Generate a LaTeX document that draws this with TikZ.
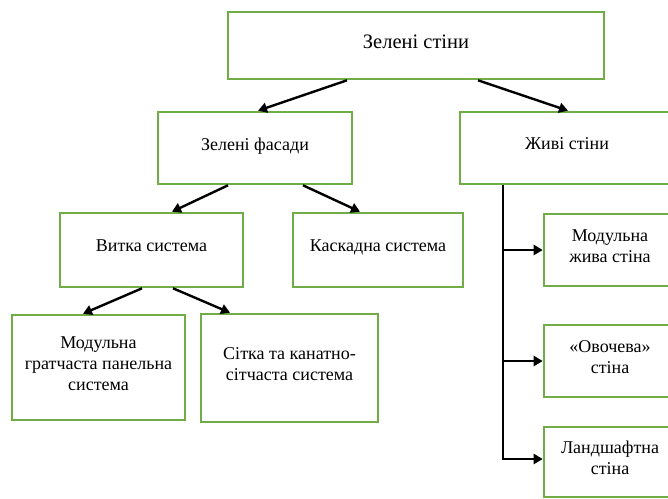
\documentclass[tikz,border=0pt]{standalone}
\usepackage{fontspec}
\setmainfont{Liberation Serif}
\usetikzlibrary{arrows.meta}
\definecolor{boxgreen}{HTML}{70AD47}
\begin{document}
\begin{tikzpicture}[x=1pt,y=-1pt,
  box/.style={draw=boxgreen, line width=2.6pt, fill=white, rectangle, inner sep=0pt,
    align=center, font=\rmfamily\fontsize{18}{21}\selectfont, text=black, text depth=8pt},
  arr/.style={draw=black, line width=2.4pt, -{Triangle[length=9pt,width=10pt]}},
]
\useasboundingbox (0,0) rectangle (668,498);
\node[box, minimum width=376pt, minimum height=67pt, font=\rmfamily\fontsize{20.5}{24}\selectfont] (top) at (416,45.5) {Зелені стіни};
\node[box, minimum width=194pt, minimum height=72pt] (fas) at (255,148) {Зелені фасади};
\node[box, minimum width=214pt, minimum height=72pt] (zhyvi) at (567,148) {Живі стіни};
\node[box, minimum width=183pt, minimum height=74pt] (vytka) at (151.5,250) {Витка система};
\node[box, minimum width=170pt, minimum height=74pt] (kask) at (378,250) {Каскадна система};
\node[box, minimum width=173pt, minimum height=105pt] (modgr) at (98.5,367.5) {Модульна\\гратчаста панельна\\система};
\node[box, minimum width=177pt, minimum height=108pt] (sitka) at (289.5,368) {Сітка та канатно-\\сітчаста система};
\node[box, minimum width=132pt, minimum height=72pt] (modzh) at (610,250) {Модульна\\жива стіна};
\node[box, minimum width=132pt, minimum height=72pt] (ovoch) at (610,361) {«Овочева»\\стіна};
\node[box, minimum width=132pt, minimum height=70pt] (land) at (610,462) {Ландшафтна\\стіна};

\draw[arr] ([xshift=-69pt]top.south) -- ([xshift=3pt]fas.north);
\draw[arr] ([xshift=62pt]top.south) -- ([xshift=1pt]zhyvi.north);
\draw[arr] ([xshift=-27pt]fas.south) -- ([xshift=20.5pt]vytka.north);
\draw[arr] ([xshift=48pt]fas.south) -- ([xshift=-18pt]kask.north);
\draw[arr] ([xshift=-9.5pt]vytka.south) -- ([xshift=-15.5pt]modgr.north);
\draw[arr] ([xshift=21.5pt]vytka.south) -- ([xshift=-59.5pt]sitka.north);

\coordinate (trunk) at ([xshift=-64pt]zhyvi.south);
\draw[arr] (trunk) |- (modzh.west);
\draw[arr] (trunk) |- (ovoch.west);
\draw[arr] (trunk) |- ([yshift=3pt]land.west);
\end{tikzpicture}
\end{document}
